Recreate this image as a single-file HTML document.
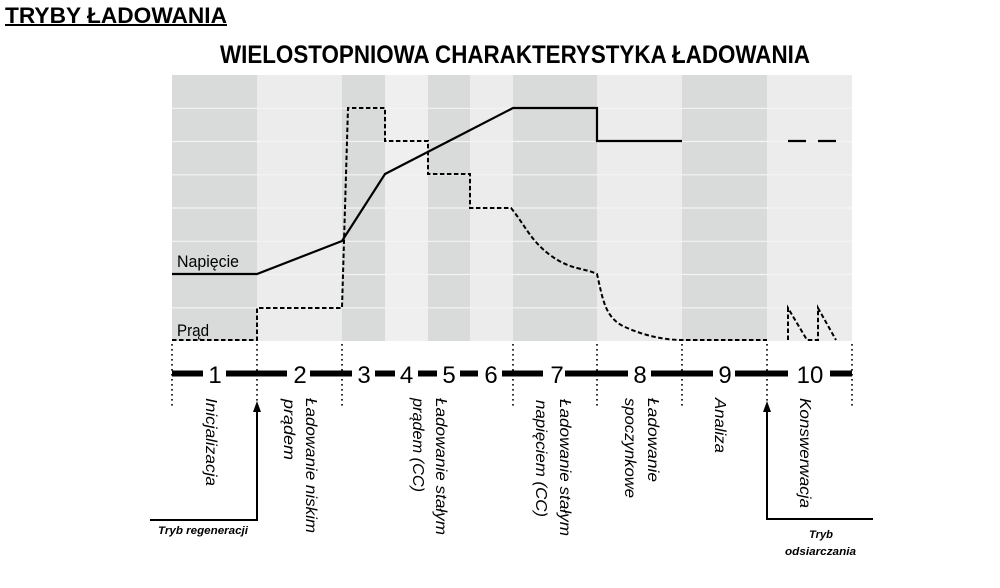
<!DOCTYPE html>
<html>
<head>
<meta charset="utf-8">
<style>
  html,body{margin:0;padding:0;background:#fff;}
  svg{display:block;}
  text{font-family:"Liberation Sans", Arial, sans-serif;fill:#000;}
</style>
</head>
<body>
<svg width="1000" height="588" viewBox="0 0 1000 588" xmlns="http://www.w3.org/2000/svg">
  <!-- Titles -->
  <text x="5" y="23" font-size="22" font-weight="bold" textLength="222" lengthAdjust="spacingAndGlyphs">TRYBY ŁADOWANIA</text>
  <rect x="5" y="24" width="222" height="2" fill="#000"/>
  <text x="220" y="63" font-size="25" font-weight="bold" textLength="590" lengthAdjust="spacingAndGlyphs">WIELOSTOPNIOWA CHARAKTERYSTYKA ŁADOWANIA</text>

  <!-- Column backgrounds -->
  <g>
    <rect x="172" y="75" width="85" height="266" fill="#d9dada"/>
    <rect x="257" y="75" width="85" height="266" fill="#ebeceb"/>
    <rect x="342" y="75" width="43" height="266" fill="#d9dada"/>
    <rect x="385" y="75" width="43" height="266" fill="#eeefee"/>
    <rect x="428" y="75" width="42" height="266" fill="#d9dada"/>
    <rect x="470" y="75" width="43" height="266" fill="#ebeceb"/>
    <rect x="513" y="75" width="84" height="266" fill="#d9dada"/>
    <rect x="597" y="75" width="85" height="266" fill="#ebeceb"/>
    <rect x="682" y="75" width="85" height="266" fill="#d9dada"/>
    <rect x="767" y="75" width="85" height="266" fill="#ebeceb"/>
  </g>
  <!-- Grid lines -->
  <g stroke="#f4f4f4" stroke-width="1.2">
    <line x1="172" y1="108.3" x2="852" y2="108.3"/>
    <line x1="172" y1="141.5" x2="852" y2="141.5"/>
    <line x1="172" y1="174.8" x2="852" y2="174.8"/>
    <line x1="172" y1="208" x2="852" y2="208"/>
    <line x1="172" y1="241.3" x2="852" y2="241.3"/>
    <line x1="172" y1="274.5" x2="852" y2="274.5"/>
    <line x1="172" y1="307.8" x2="852" y2="307.8"/>
  </g>

  <!-- Voltage (solid) -->
  <polyline points="172,274 257,274 342,241 385,174 513,108 597,108 597,141 682,141" fill="none" stroke="#000" stroke-width="2.2" stroke-linejoin="miter"/>
  <line x1="788" y1="141" x2="806" y2="141" stroke="#000" stroke-width="2.2"/>
  <line x1="818" y1="141" x2="836" y2="141" stroke="#000" stroke-width="2.2"/>

  <!-- Current (dashed) -->
  <path d="M172,340 H257 V308 H342 L348,108 H385 V141 H428 V174 H470 V208 H511 C525,225 530,240 550,255 S585,268 597,274 C603,300 605,318 625,327 S665,340 682,340 H767"
        fill="none" stroke="#000" stroke-width="2" stroke-dasharray="4.5 2.5"/>
  <path d="M788,340 V308 L807,340 H818 V308 L836,340" fill="none" stroke="#000" stroke-width="2" stroke-dasharray="4.5 2.5"/>

  <!-- Series labels -->
  <text x="177" y="267" font-size="16.5" textLength="62" lengthAdjust="spacingAndGlyphs">Napięcie</text>
  <text x="177" y="336" font-size="16.5" textLength="32" lengthAdjust="spacingAndGlyphs">Prąd</text>

  <!-- Dotted verticals -->
  <g stroke="#000" stroke-width="1.6" stroke-dasharray="1.6 3.4">
    <line x1="172" y1="344" x2="172" y2="406"/>
    <line x1="257" y1="344" x2="257" y2="402"/>
    <line x1="342" y1="344" x2="342" y2="409"/>
    <line x1="513" y1="344" x2="513" y2="409"/>
    <line x1="597" y1="344" x2="597" y2="409"/>
    <line x1="682" y1="344" x2="682" y2="409"/>
    <line x1="767" y1="344" x2="767" y2="402"/>
    <line x1="852" y1="344" x2="852" y2="409"/>
  </g>

  <!-- Timeline -->
  <g fill="#000">
    <rect x="172" y="370.5" width="31" height="6"/>
    <rect x="226" y="370.5" width="61" height="6"/>
    <rect x="310" y="370.5" width="42" height="6"/>
    <rect x="375" y="370.5" width="20" height="6"/>
    <rect x="418" y="370.5" width="19" height="6"/>
    <rect x="460" y="370.5" width="18" height="6"/>
    <rect x="502" y="370.5" width="41" height="6"/>
    <rect x="565" y="370.5" width="63" height="6"/>
    <rect x="651" y="370.5" width="62" height="6"/>
    <rect x="735" y="370.5" width="53" height="6"/>
    <rect x="830" y="370.5" width="22" height="6"/>
  </g>
  <g font-size="24" text-anchor="middle">
    <text x="215" y="383">1</text>
    <text x="300" y="383">2</text>
    <text x="364" y="383">3</text>
    <text x="406.5" y="383">4</text>
    <text x="449" y="383">5</text>
    <text x="491" y="383">6</text>
    <text x="557" y="383">7</text>
    <text x="640" y="383">8</text>
    <text x="725" y="383">9</text>
    <text x="810" y="383">10</text>
  </g>

  <!-- Arrows -->
  <g stroke="#000" stroke-width="2" fill="none">
    <polyline points="150,520 257,520 257,410"/>
    <polyline points="873,519 767,519 767,410"/>
  </g>
  <polygon points="253,412 261,412 257,401" fill="#000"/>
  <polygon points="763,412 771,412 767,401" fill="#000"/>

  <text x="158" y="534" font-size="11" font-weight="bold" font-style="italic" textLength="90" lengthAdjust="spacingAndGlyphs">Tryb regeneracji</text>
  <text x="809" y="538" font-size="11" font-weight="bold" font-style="italic" textLength="24" lengthAdjust="spacingAndGlyphs">Tryb</text>
  <text x="785" y="555" font-size="11" font-weight="bold" font-style="italic" textLength="71" lengthAdjust="spacingAndGlyphs">odsiarczania</text>

  <!-- Rotated phase labels -->
  <g font-size="16" font-style="italic">
    <text transform="translate(206,398) rotate(90)" textLength="88" lengthAdjust="spacingAndGlyphs">Inicjalizacja</text>
    <text transform="translate(306,398) rotate(90)" textLength="135" lengthAdjust="spacingAndGlyphs">Ładowanie niskim</text>
    <text transform="translate(284,399) rotate(90)" textLength="61" lengthAdjust="spacingAndGlyphs">prądem</text>
    <text transform="translate(436,398) rotate(90)" textLength="137" lengthAdjust="spacingAndGlyphs">Ładowanie stałym</text>
    <text transform="translate(413,398) rotate(90)" textLength="94" lengthAdjust="spacingAndGlyphs">prądem (CC)</text>
    <text transform="translate(560,399) rotate(90)" textLength="137" lengthAdjust="spacingAndGlyphs">Ładowanie stałym</text>
    <text transform="translate(536,400) rotate(90)" textLength="117" lengthAdjust="spacingAndGlyphs">napięciem (CC)</text>
    <text transform="translate(648,398) rotate(90)" textLength="84" lengthAdjust="spacingAndGlyphs">Ładowanie</text>
    <text transform="translate(625,398) rotate(90)" textLength="100" lengthAdjust="spacingAndGlyphs">spoczynkowe</text>
    <text transform="translate(715,398) rotate(90)" textLength="55" lengthAdjust="spacingAndGlyphs">Analiza</text>
    <text transform="translate(800,398) rotate(90)" textLength="110" lengthAdjust="spacingAndGlyphs">Konswerwacja</text>
  </g>
</svg>
</body>
</html>
